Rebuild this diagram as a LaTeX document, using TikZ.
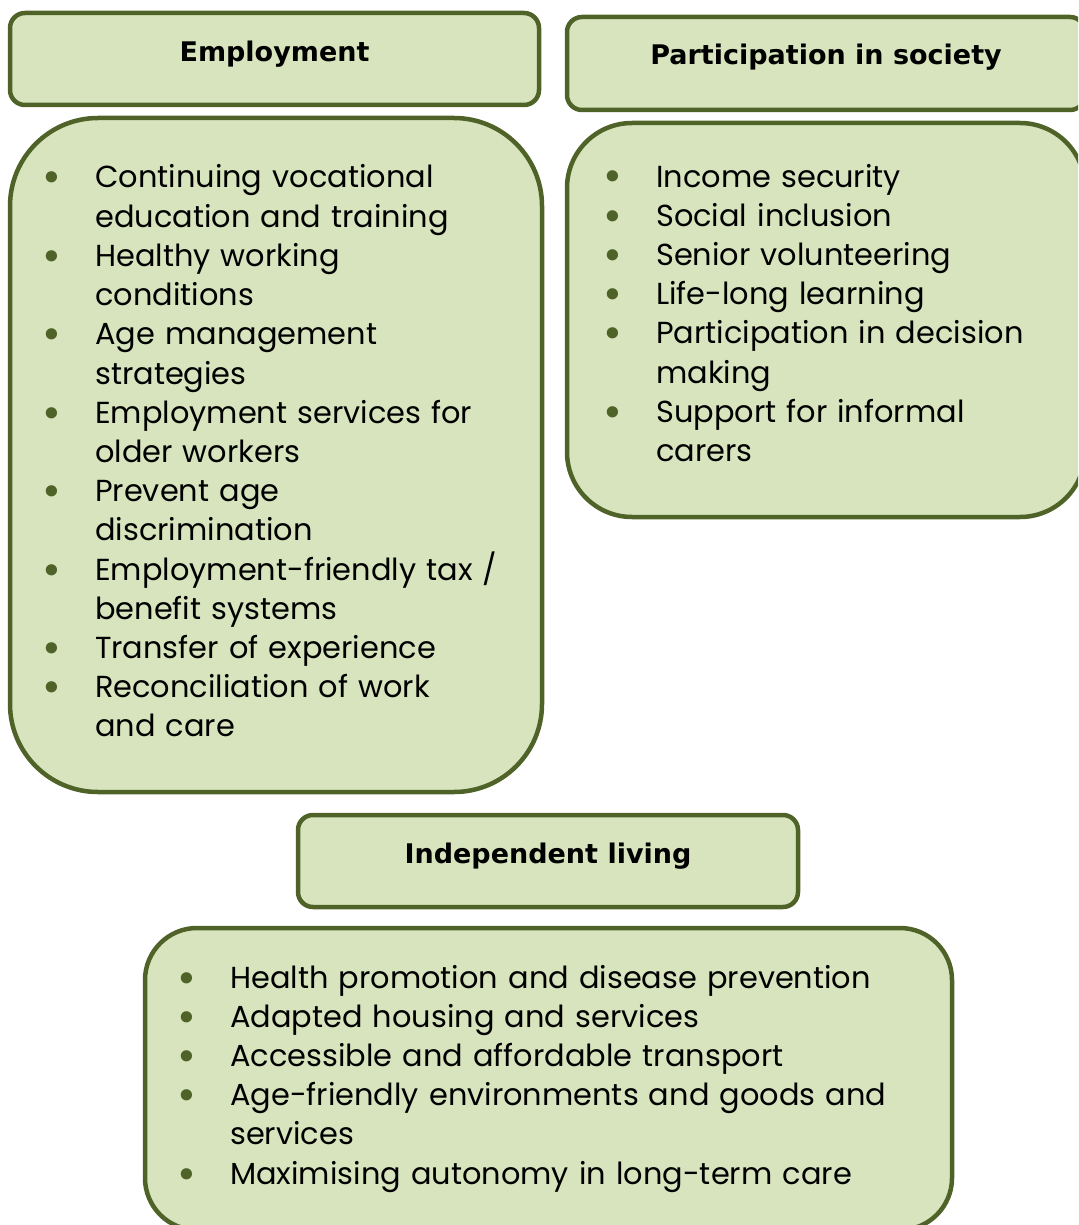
\documentclass[tikz,border=0pt]{standalone}
\usepackage{graphicx}
\usepackage{fontspec}
\setmainfont{Poppins}
\newfontfamily\headfont{DejaVu Sans}
\definecolor{panelfill}{HTML}{D7E4BD}
\definecolor{paneldraw}{HTML}{4F6228}
\definecolor{bulletgreen}{HTML}{4F6228}
% bullet hung in the left margin of each item
\newcommand\itemdot{\leavevmode\llap{\textcolor{bulletgreen}{\raisebox{-5pt}{\scalebox{1.5}{\textbullet}}}\hspace{34pt}}}
\tikzset{
  panel/.style={draw=paneldraw, fill=panelfill, line width=4.5pt, inner sep=0pt},
  headline/.style={font=\headfont\bfseries\fontsize{27pt}{32pt}\selectfont, inner sep=0pt},
  itemlist/.style={font=\fontsize{30.4pt}{39.2pt}\selectfont, inner sep=0pt,
                   text width=900pt, align=left, anchor=base west}
}
\begin{document}
\begin{tikzpicture}[x=1pt,y=-1pt]
\useasboundingbox (0,0) rectangle (1078,1225);
\begin{scope}
  \clip (0,0) rectangle (1078,1225);
  % Employment
  \node[panel, rounded corners=15pt, minimum width=529pt, minimum height=92pt] (emphead) at (274.5,59) {};
  \node[panel, rounded corners=88pt, minimum width=532pt, minimum height=674pt] (empbody) at (276,455) {};
  % Participation in society
  \node[panel, rounded corners=15pt, minimum width=518pt, minimum height=93pt] (parthead) at (826,63.5) {};
  \node[panel, rounded corners=65pt, minimum width=518pt, minimum height=394pt] (partbody) at (826,320) {};
  % Independent living
  \node[panel, rounded corners=15pt, minimum width=500pt, minimum height=92pt] (indhead) at (548,861) {};
  \node[panel, rounded corners=52pt, minimum width=807pt, minimum height=302pt] (indbody) at (548.5,1079) {};
\end{scope}

% Headings
\node[headline, anchor=base] (emptitle) at (274.5,62) {Employment};
\node[headline, anchor=base] (parttitle) at (826,65) {Participation in society};
\node[headline, anchor=base] (indtitle) at (548,863) {Independent living};

% Item lists
\node[itemlist] (emplist) at (95,188) {%
\itemdot Continuing vocational\\
education and training\\
\itemdot Healthy working\\
conditions\\
\itemdot Age management\\
strategies\\
\itemdot Employment services for\\
older workers\\
\itemdot Prevent age\\
discrimination\\
\itemdot Employment-friendly tax /\\
benefit systems\\
\itemdot Transfer of experience\\
\itemdot Reconciliation of work\\
and care};

\node[itemlist] (partlist) at (656,187) {%
\itemdot Income security\\
\itemdot Social inclusion\\
\itemdot Senior volunteering\\
\itemdot Life-long learning\\
\itemdot Participation in decision\\
making\\
\itemdot Support for informal\\
carers};

\node[itemlist] (indlist) at (230,988) {%
\itemdot Health promotion and disease prevention\\
\itemdot Adapted housing and services\\
\itemdot Accessible and affordable transport\\
\itemdot Age-friendly environments and goods and\\
services\\
\itemdot Maximising autonomy in long-term care};
\end{tikzpicture}
\end{document}
